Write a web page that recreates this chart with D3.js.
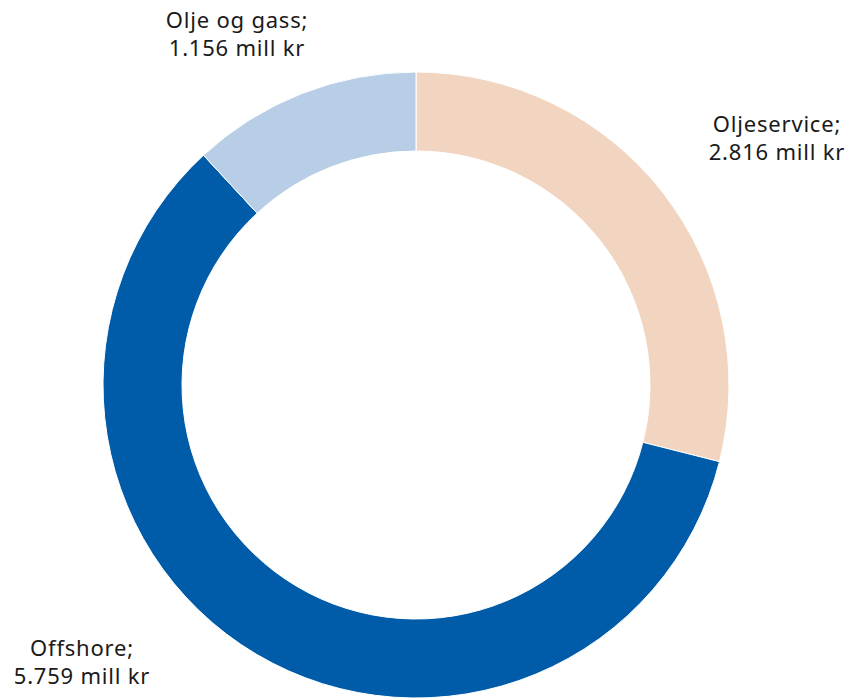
<!DOCTYPE html>
<html>
<head>
<meta charset="utf-8">
<script src="https://cdn.jsdelivr.net/npm/d3@7"></script>
<style>
  body { margin: 0; background: #fff; }
  text { font-family: "Noto Sans", "Open Sans", sans-serif; font-size: 22px; letter-spacing: 0.8px; fill: #1a1a1a; }
</style>
</head>
<body>
<svg id="chart"></svg>
<script>
// Data
const categories = ["Oljeservice", "Offshore", "Olje og gass"];
const values = [2816, 5759, 1156];
const valueLabels = ["2.816 mill kr", "5.759 mill kr", "1.156 mill kr"];
const colors = ["#f2d5c1", "#005ca8", "#b8cee6"];

const width = 848, height = 698;
const cx = 416, cy = 385;
const outerR = 313, innerR = 234;

const svg = d3.select("#chart").attr("width", width).attr("height", height);
const g = svg.append("g").attr("transform", `translate(${cx},${cy})`);

const pie = d3.pie().sort(null).value((d) => d);
const arc = d3.arc().innerRadius(innerR).outerRadius(outerR);

g.selectAll("path")
  .data(pie(values))
  .enter()
  .append("path")
  .attr("d", arc)
  .attr("fill", (d, i) => colors[i])
  .attr("stroke", "#fff")
  .attr("stroke-width", 1);

// Labels (position relative to chart centre)
const labelPos = [
  { x: 777 - cx, y: 132 - cy },
  { x: 82 - cx, y: 656 - cy },
  { x: 237 - cx, y: 28 - cy }
];

categories.forEach((c, i) => {
  const t = g.append("text")
    .attr("text-anchor", "middle")
    .attr("x", labelPos[i].x)
    .attr("y", labelPos[i].y);
  t.append("tspan").attr("x", labelPos[i].x).text(c + ";");
  t.append("tspan").attr("x", labelPos[i].x).attr("dy", 28).text(valueLabels[i]);
});
</script>
</body>
</html>
